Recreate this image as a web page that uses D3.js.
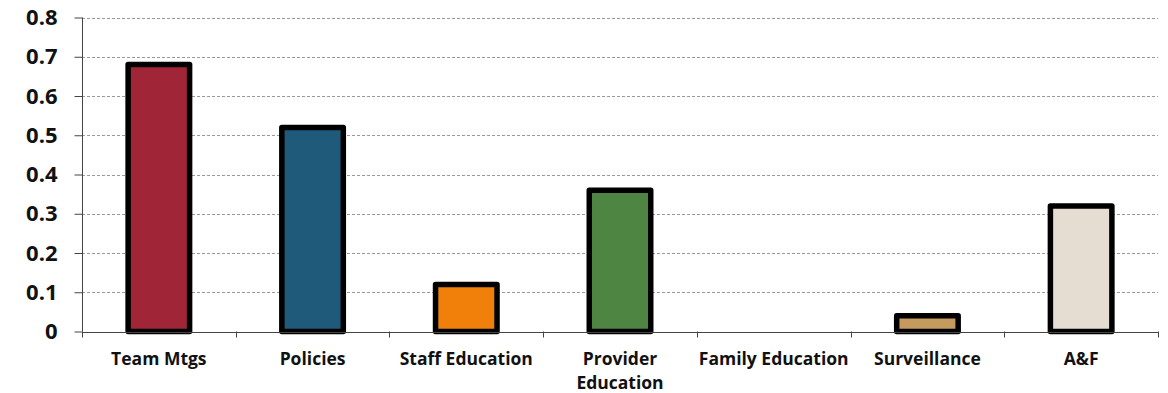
<!DOCTYPE html>
<html>
<head>
<meta charset="utf-8">
<script src="https://cdn.jsdelivr.net/npm/d3@7"></script>
<style>
  body { margin: 0; background: #fff; }
  text { font-family: "Open Sans", Lato, sans-serif; font-weight: bold; fill: #111; }
</style>
</head>
<body>
<div id="chart"></div>
<script>
const categories = ["Team Mtgs", "Policies", "Staff Education", "Provider Education", "Family Education", "Surveillance", "A&F"];
const values = [0.68, 0.52, 0.12, 0.36, 0, 0.04, 0.32];
const colors = ["#A02637", "#1F5A7A", "#F0800A", "#4E8542", "#FFFFFF", "#C49A5E", "#E5DDD2"];
const yTicks = [0, 0.1, 0.2, 0.3, 0.4, 0.5, 0.6, 0.7, 0.8];
// labels that wrap onto two lines
const wrapped = {"Provider Education": ["Provider", "Education"]};

const width = 1168, height = 393;
const margin = {top: 17.5, right: 10, bottom: 61.5, left: 82};

const svg = d3.select("#chart").append("svg")
  .attr("width", width)
  .attr("height", height);

const x = d3.scaleBand()
  .domain(categories)
  .range([margin.left, width - margin.right])
  .paddingInner(0).paddingOuter(0);

const y = d3.scaleLinear()
  .domain([0, 0.8])
  .range([height - margin.bottom, margin.top]);

// gridlines
svg.append("g")
  .selectAll("line")
  .data(yTicks.filter(d => d > 0))
  .join("line")
  .attr("x1", margin.left)
  .attr("x2", width - margin.right)
  .attr("y1", d => Math.round(y(d)) + 0.5)
  .attr("y2", d => Math.round(y(d)) + 0.5)
  .attr("stroke", "#9a9a9a")
  .attr("stroke-dasharray", "3,2");

// bars
svg.append("g")
  .selectAll("rect")
  .data(categories.map((c, i) => ({c, v: values[i], color: colors[i]})).filter(d => d.v > 0))
  .join("rect")
  .attr("x", d => x(d.c) + x.bandwidth() * 0.3)
  .attr("width", x.bandwidth() * 0.4)
  .attr("y", d => y(d.v))
  .attr("height", d => y(0) - y(d.v))
  .attr("fill", d => d.color)
  .attr("stroke", "#000")
  .attr("stroke-width", 5.5)
  .attr("stroke-linejoin", "round");

// y axis
const yAxis = svg.append("g")
  .attr("transform", `translate(${margin.left + 0.5},0)`)
  .call(d3.axisLeft(y).tickValues(yTicks).tickSize(8).tickPadding(17)
    .tickFormat(d => d === 0 ? "0" : d3.format(".1f")(d)));
yAxis.select(".domain").attr("stroke", "#444").attr("d", `M0,${y(0)}V${y(0.8)}`);
yAxis.selectAll(".tick line").attr("stroke", "#444");
yAxis.selectAll(".tick text")
  .style("font-size", "22px")
  .style("font-family", "'Open Sans', Lato, sans-serif")
  .style("font-weight", "bold")
  .attr("fill", "#111");

// x axis line and boundary ticks
const xg = svg.append("g");
xg.append("line")
  .attr("x1", margin.left)
  .attr("x2", width - margin.right)
  .attr("y1", Math.round(y(0)) + 0.5)
  .attr("y2", Math.round(y(0)) + 0.5)
  .attr("stroke", "#444");
xg.selectAll(".bound")
  .data(categories.map(c => x(c)).concat([x.range()[1]]))
  .join("line")
  .attr("class", "bound")
  .attr("x1", d => Math.round(d) + 0.5)
  .attr("x2", d => Math.round(d) + 0.5)
  .attr("y1", y(0))
  .attr("y2", y(0) + 6)
  .attr("stroke", "#444");

// x labels
xg.selectAll(".xl")
  .data(categories)
  .join("text")
  .attr("class", "xl")
  .attr("x", d => x(d) + x.bandwidth() / 2)
  .attr("y", y(0) + 33)
  .attr("text-anchor", "middle")
  .style("font-size", "17.5px")
  .each(function(d) {
    const lines = wrapped[d] || [d];
    d3.select(this).selectAll("tspan")
      .data(lines)
      .join("tspan")
      .attr("x", x(d) + x.bandwidth() / 2)
      .attr("dy", (l, i) => i === 0 ? 0 : 24)
      .text(l => l);
  });
</script>
</body>
</html>
